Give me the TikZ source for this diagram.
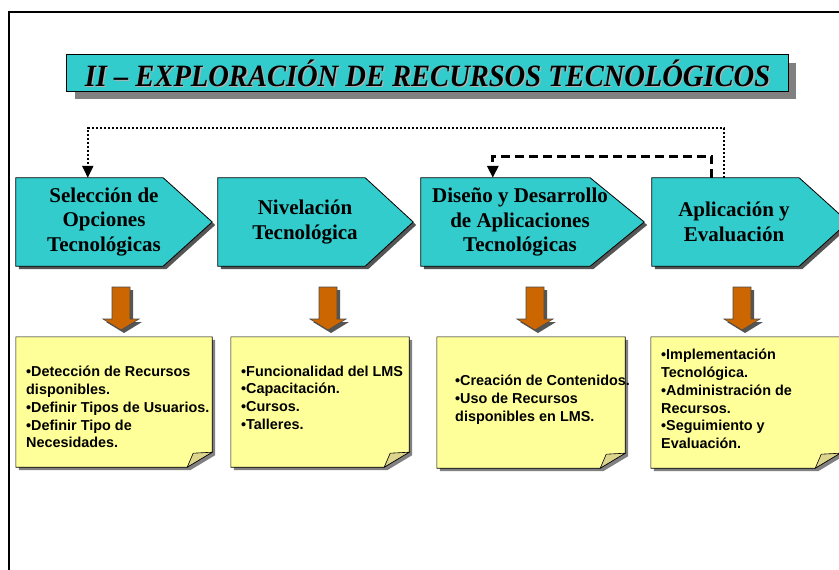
\documentclass[tikz,border=0pt]{standalone}
\usepackage{fontspec}
\setmainfont{Liberation Serif}
\newfontfamily\notefont{Liberation Sans}
\usetikzlibrary{arrows.meta,calc}
\definecolor{tealfill}{HTML}{33CCCC}
\definecolor{noteyel}{HTML}{FFFF99}
\definecolor{foldyel}{RGB}{221,213,140}
\definecolor{orng}{HTML}{CC6600}
\definecolor{shadowgray}{HTML}{808080}
\definecolor{darkshadow}{HTML}{555555}
\begin{document}
\begin{tikzpicture}[x=1pt,y=-1pt,
  stagebox/.style={minimum height=88pt, inner sep=0pt, draw=none},
  stagetext/.style={font=\bfseries\fontsize{21}{24.5}\selectfont, align=center, inner sep=0pt},
  notebox/.style={inner sep=0pt, draw=none},
  notetext/.style={font=\notefont\bfseries\fontsize{14.4}{17.8}\selectfont, align=left, inner sep=0pt, anchor=north west},
  dotline/.style={line width=2pt, dash pattern=on 2pt off 2pt, -{Triangle[length=12pt,width=11pt]}},
  dashline/.style={line width=3pt, dash pattern=on 9pt off 5pt, -{Triangle[length=12pt,width=11pt]}},
  outline/.style={draw=black, line width=0.8pt},
  blockarrow/.style={fill=orng, draw=black!70, line width=0.6pt},
]
\useasboundingbox (0,0) rectangle (839,570);
\clip (0,0) rectangle (839,570);
\fill[white] (0,0) rectangle (839,570);

% frame
\draw[line width=2.5pt] (9,12) rectangle (870,610);

% title
\node[minimum width=721pt, minimum height=36pt, inner sep=0pt] (title) at (427.5,73) {};
\begin{scope}[transform canvas={xshift=8pt,yshift=-8pt}]
  \fill[shadowgray] (title.north west) rectangle (title.south east);
\end{scope}
\fill[tealfill] (title.north west) rectangle (title.south east);
\draw[outline] (title.north west) rectangle (title.south east);
\node[text=gray!60, font=\bfseries\itshape\fontsize{31}{36}\selectfont, inner sep=0pt] at ([xshift=1.3pt,yshift=-1.3pt]title.center) {\scalebox{0.92}[1]{II – EXPLORACIÓN DE RECURSOS TECNOLÓGICOS}};
\node[font=\bfseries\itshape\fontsize{31}{36}\selectfont, inner sep=0pt] (titletext) at (title.center) {\scalebox{0.92}[1]{II – EXPLORACIÓN DE RECURSOS TECNOLÓGICOS}};

% stage boxes (geometry)
\node[stagebox, minimum width=196pt] (s1) at (114,222) {};
\node[stagebox, minimum width=195pt] (s2) at (315.5,222) {};
\node[stagebox, minimum width=223pt] (s3) at (532.5,222) {};
\node[stagebox, minimum width=196pt] (s4) at (750,222) {};

\begin{scope}[transform canvas={xshift=3pt,yshift=-3pt}]
\foreach \n/\t in {s1/49,s2/48,s3/54,s4/49}{
  \fill[darkshadow] (\n.north west) -- ([xshift=-\t pt]\n.north east) -- (\n.east) -- ([xshift=-\t pt]\n.south east) -- (\n.south west) -- cycle;
}
\end{scope}
\foreach \n/\t in {s1/49,s2/48,s3/54,s4/49}{
  \filldraw[fill=tealfill, outline] (\n.north west) -- ([xshift=-\t pt]\n.north east) -- (\n.east) -- ([xshift=-\t pt]\n.south east) -- (\n.south west) -- cycle;
}
\node[stagetext] (t1) at (104,222) {Selección de\\Opciones\\Tecnológicas};
\node[stagetext] (t2) at (305,222) {Nivelación\\Tecnológica};
\node[stagetext] (t3) at (520,222) {Diseño y Desarrollo\\de Aplicaciones\\Tecnológicas};
\node[stagetext] (t4) at (734,222) {Aplicación y\\Evaluación};

% feedback connectors
\coordinate (dtop) at (0,128);
\coordinate (htop) at (0,156);
\coordinate (d1) at ([xshift=72pt]s4.north west);
\coordinate (d2) at ([xshift=72pt]s1.north west);
\coordinate (h1) at ([xshift=60pt]s4.north west);
\coordinate (h2) at ([xshift=72pt]s3.north west);
\draw[dotline] (d1) -- (d1 |- dtop) -| (d2);
\draw[dashline] (h1) -- (h1 |- htop) -| (h2);

% block arrows
\foreach \i/\x in {1/121,2/328,3/535,4/742}{
  \coordinate (a\i) at (\x,287);
}
\begin{scope}[transform canvas={xshift=3pt,yshift=-3pt}]
\foreach \i in {1,2,3,4}{
  \fill[darkshadow] (a\i) +(-9,0) -- +(9,0) -- +(9,32) -- +(18,32) -- +(0,43) -- +(-18,32) -- +(-9,32) -- cycle;
}
\end{scope}
\foreach \i in {1,2,3,4}{
  \path[blockarrow] (a\i) +(-9,0) -- +(9,0) -- +(9,32) -- +(18,32) -- +(0,43) -- +(-18,32) -- +(-9,32) -- cycle;
}

% notes
\node[notebox, minimum width=196pt, minimum height=130pt] (n1) at (114,402) {};
\node[notebox, minimum width=178pt, minimum height=130pt] (n2) at (320,402) {};
\node[notebox, minimum width=188pt, minimum height=131pt] (n3) at (531,402.5) {};
\node[notebox, minimum width=189pt, minimum height=131pt] (n4) at (745.5,402.5) {};
\begin{scope}[transform canvas={xshift=3pt,yshift=-3pt}]
\foreach \n in {n1,n2,n3,n4}{
  \fill[shadowgray] (\n.north west) -- (\n.north east) -- ([yshift=15pt]\n.south east) -- ([xshift=-25pt]\n.south east) -- (\n.south west) -- cycle;
}
\end{scope}
\foreach \n in {n1,n2,n3,n4}{
  \filldraw[fill=noteyel, draw=black, line width=0.6pt] (\n.north west) -- (\n.north east) -- ([yshift=15pt]\n.south east) -- ([xshift=-25pt]\n.south east) -- (\n.south west) -- cycle;
  \filldraw[fill=foldyel, draw=black, line width=0.6pt] ([xshift=-25pt]\n.south east) -- ([xshift=-19pt,yshift=14pt]\n.south east) -- ([yshift=15pt]\n.south east) -- cycle;
}
\node[notetext] (nt1) at (26,366) {•Detección de Recursos\\disponibles.\\•Definir Tipos de Usuarios.\\•Definir Tipo de\\Necesidades.};
\node[notetext] (nt2) at (241,365.5) {•Funcionalidad del LMS\\•Capacitación.\\•Cursos.\\•Talleres.};
\node[notetext] (nt3) at (455,375) {•Creación de Contenidos.\\•Uso de Recursos\\disponibles en LMS.};
\node[notetext] (nt4) at (661,349) {•Implementación\\Tecnológica.\\•Administración de\\Recursos.\\•Seguimiento y\\Evaluación.};
\end{tikzpicture}
\end{document}
